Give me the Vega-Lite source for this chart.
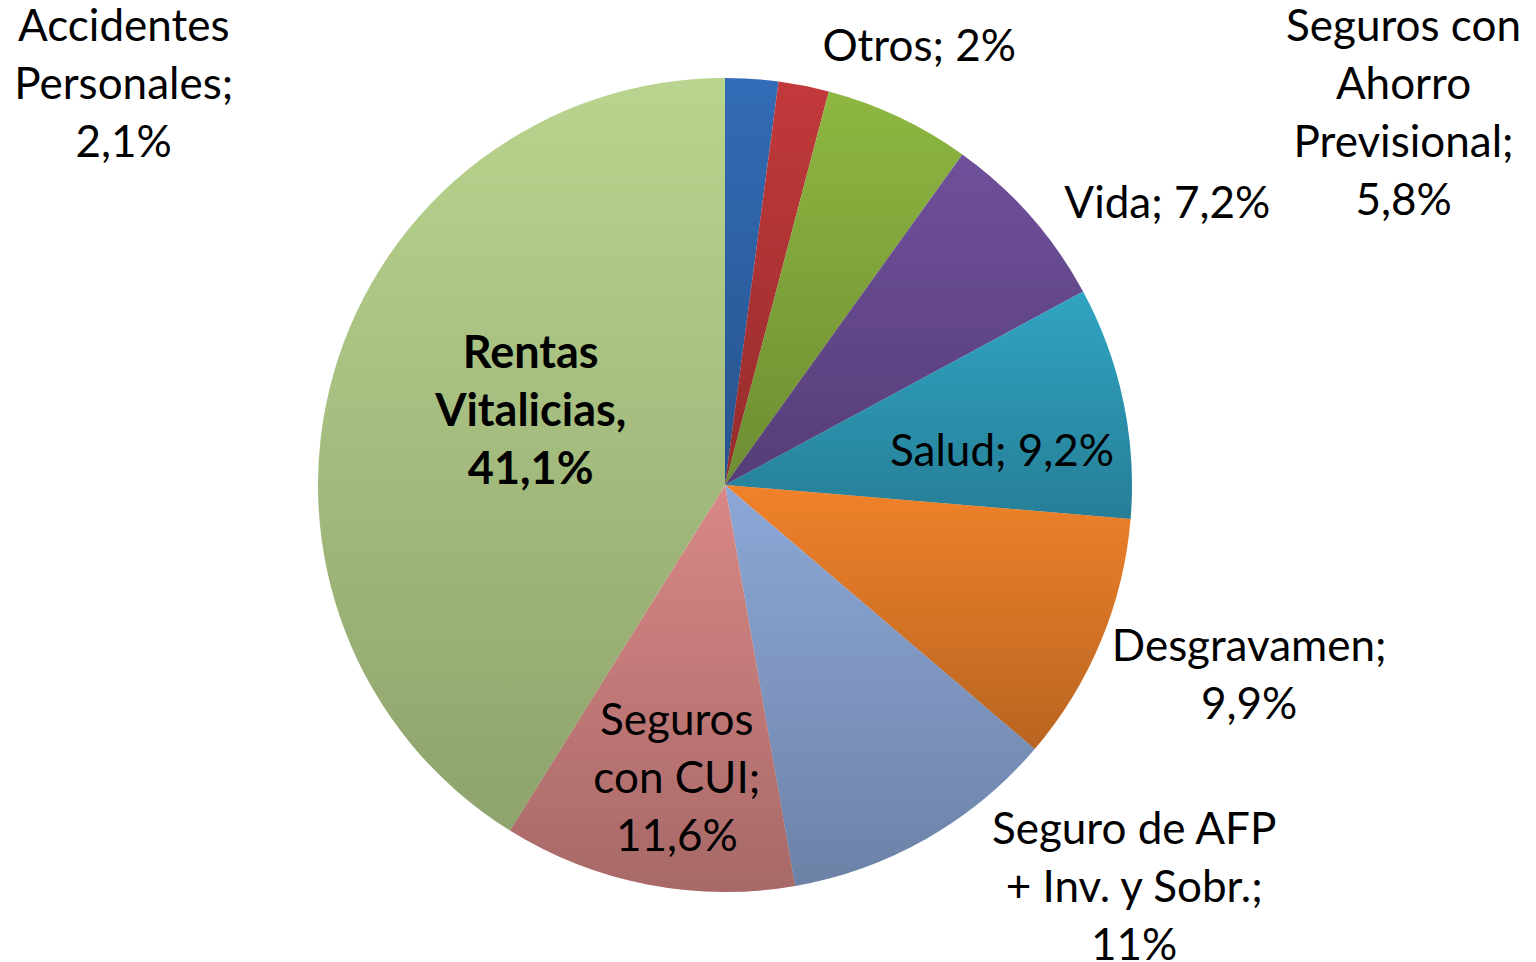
{
  "$schema": "https://vega.github.io/schema/vega-lite/v6.json",
  "width": 1450,
  "height": 962,
  "autosize": {"type": "none"},
  "padding": {"left": 0, "top": 4, "right": 86, "bottom": 0},
  "background": "white",
  "config": {"view": {"stroke": null}},
  "data": {
    "values": [
      {"orden": 1, "categoria": "Accidentes Personales", "valor": 2.1, "etiqueta": "Accidentes\nPersonales;\n2,1%"},
      {"orden": 2, "categoria": "Otros", "valor": 2.0, "etiqueta": "Otros; 2%"},
      {"orden": 3, "categoria": "Seguros con Ahorro Previsional", "valor": 5.8, "etiqueta": "Seguros con\nAhorro\nPrevisional;\n5,8%"},
      {"orden": 4, "categoria": "Vida", "valor": 7.2, "etiqueta": "Vida; 7,2%"},
      {"orden": 5, "categoria": "Salud", "valor": 9.2, "etiqueta": "Salud; 9,2%"},
      {"orden": 6, "categoria": "Desgravamen", "valor": 9.9, "etiqueta": "Desgravamen;\n9,9%"},
      {"orden": 7, "categoria": "Seguro de AFP + Inv. y Sobr.", "valor": 11.0, "etiqueta": "Seguro de AFP\n+ Inv. y Sobr.;\n11%"},
      {"orden": 8, "categoria": "Seguros con CUI", "valor": 11.6, "etiqueta": "Seguros\ncon CUI;\n11,6%"},
      {"orden": 9, "categoria": "Rentas Vitalicias", "valor": 41.1, "etiqueta": "Rentas\nVitalicias,\n41,1%"}
    ]
  },
  "encoding": {
    "theta": {"field": "valor", "type": "quantitative", "stack": true},
    "order": {"field": "orden", "type": "quantitative"}
  },
  "layer": [
    {
      "mark": {"type": "arc", "outerRadius": 407},
      "encoding": {
        "color": {
          "field": "categoria",
          "type": "nominal",
          "legend": null,
          "scale": {
            "domain": ["Accidentes Personales", "Otros", "Seguros con Ahorro Previsional", "Vida", "Salud", "Desgravamen", "Seguro de AFP + Inv. y Sobr.", "Seguros con CUI", "Rentas Vitalicias"],
            "range": ["#326CB6", "#C2393A", "#8EB741", "#6F509B", "#31A4C3", "#F0822A", "#8DA8D8", "#D98886", "#B9D48E"]
          }
        }
      }
    },
    {
      "mark": {
        "type": "arc",
        "outerRadius": 407,
        "fill": {
          "gradient": "linear",
          "x1": 0, "y1": 0, "x2": 0, "y2": 1,
          "stops": [
            {"offset": 0, "color": "rgba(0,0,0,0)"},
            {"offset": 1, "color": "rgba(0,0,0,0.23)"}
          ]
        }
      },
      "encoding": {"detail": {"field": "categoria", "type": "nominal"}}
    },
    {
      "mark": {"type": "text", "font": "Lato", "fontSize": 44, "lineHeight": 58, "lineBreak": "\n", "align": "center", "baseline": "middle", "color": "black", "radius": 420, "dx": -629, "dy": -38},
      "encoding": {
        "detail": {"field": "categoria", "type": "nominal"},
        "text": {"condition": {"test": "datum.categoria === 'Accidentes Personales'", "field": "etiqueta"}, "value": ""}
      }
    },
    {
      "mark": {"type": "text", "font": "Lato", "fontSize": 44, "lineHeight": 58, "lineBreak": "\n", "align": "center", "baseline": "middle", "color": "black", "radius": 440, "dx": 109, "dy": -5},
      "encoding": {
        "detail": {"field": "categoria", "type": "nominal"},
        "text": {"condition": {"test": "datum.categoria === 'Otros'", "field": "etiqueta"}, "value": ""}
      }
    },
    {
      "mark": {"type": "text", "font": "Lato", "fontSize": 44, "lineHeight": 58, "lineBreak": "\n", "align": "center", "baseline": "middle", "color": "black", "radius": 440, "dx": 491, "dy": -59},
      "encoding": {
        "detail": {"field": "categoria", "type": "nominal"},
        "text": {"condition": {"test": "datum.categoria === 'Seguros con Ahorro Previsional'", "field": "etiqueta"}, "value": ""}
      }
    },
    {
      "mark": {"type": "text", "font": "Lato", "fontSize": 44, "lineHeight": 58, "lineBreak": "\n", "align": "center", "baseline": "middle", "color": "black", "radius": 440, "dx": 112, "dy": 11},
      "encoding": {
        "detail": {"field": "categoria", "type": "nominal"},
        "text": {"condition": {"test": "datum.categoria === 'Vida'", "field": "etiqueta"}, "value": ""}
      }
    },
    {
      "mark": {"type": "text", "font": "Lato", "fontSize": 44, "lineHeight": 58, "lineBreak": "\n", "align": "center", "baseline": "middle", "color": "black", "radius": 280, "dx": 3, "dy": 25},
      "encoding": {
        "detail": {"field": "categoria", "type": "nominal"},
        "text": {"condition": {"test": "datum.categoria === 'Salud'", "field": "etiqueta"}, "value": ""}
      }
    },
    {
      "mark": {"type": "text", "font": "Lato", "fontSize": 44, "lineHeight": 58, "lineBreak": "\n", "align": "center", "baseline": "middle", "color": "black", "radius": 440, "dx": 118, "dy": -6},
      "encoding": {
        "detail": {"field": "categoria", "type": "nominal"},
        "text": {"condition": {"test": "datum.categoria === 'Desgravamen'", "field": "etiqueta"}, "value": ""}
      }
    },
    {
      "mark": {"type": "text", "font": "Lato", "fontSize": 44, "lineHeight": 58, "lineBreak": "\n", "align": "center", "baseline": "middle", "color": "black", "radius": 440, "dx": 191, "dy": -36},
      "encoding": {
        "detail": {"field": "categoria", "type": "nominal"},
        "text": {"condition": {"test": "datum.categoria === 'Seguro de AFP + Inv. y Sobr.'", "field": "etiqueta"}, "value": ""}
      }
    },
    {
      "mark": {"type": "text", "font": "Lato", "fontSize": 44, "lineHeight": 58, "lineBreak": "\n", "align": "center", "baseline": "middle", "color": "black", "radius": 300, "dx": 9, "dy": -57},
      "encoding": {
        "detail": {"field": "categoria", "type": "nominal"},
        "text": {"condition": {"test": "datum.categoria === 'Seguros con CUI'", "field": "etiqueta"}, "value": ""}
      }
    },
    {
      "mark": {"type": "text", "font": "Lato", "fontSize": 45, "fontWeight": "bold", "lineHeight": 58, "lineBreak": "\n", "align": "center", "baseline": "middle", "color": "black", "radius": 200, "dx": -2, "dy": -76},
      "encoding": {
        "detail": {"field": "categoria", "type": "nominal"},
        "text": {"condition": {"test": "datum.categoria === 'Rentas Vitalicias'", "field": "etiqueta"}, "value": ""}
      }
    }
  ]
}
